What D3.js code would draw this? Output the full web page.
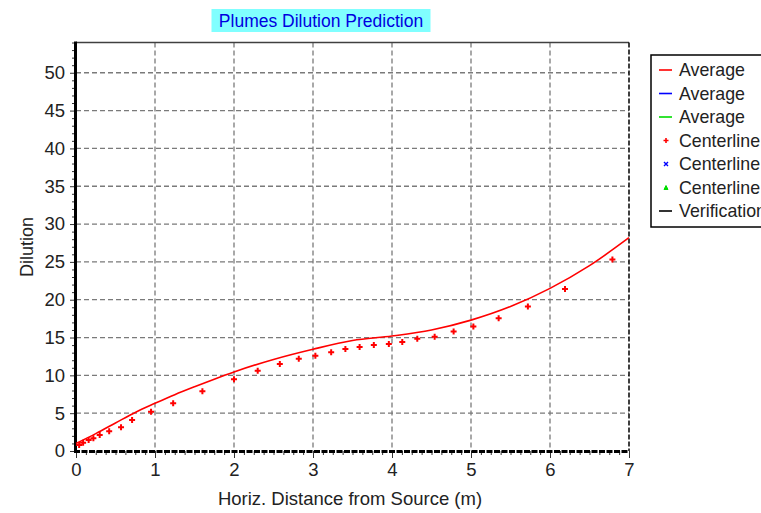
<!DOCTYPE html>
<html><head><meta charset="utf-8">
<script src="https://cdn.jsdelivr.net/npm/d3@7"></script>
<style>body{margin:0;background:#fff;}svg{display:block;font-family:"Liberation Sans",Arial,sans-serif;}</style>
</head><body>
<svg id="c" width="761" height="513"></svg>
<script>
const avgX = [0, 0.25, 0.5, 0.75, 1, 1.25, 1.5, 1.75, 2, 2.5, 3, 3.5, 4, 4.5, 5, 5.5, 6, 6.5, 7];
const avgY = [1.0, 2.3, 3.7, 5.1, 6.3, 7.45, 8.5, 9.5, 10.45, 12.1, 13.45, 14.6, 15.2, 16.0, 17.3, 19.1, 21.5, 24.5, 28.2];
const ctrX = [0.04, 0.09, 0.16, 0.22, 0.30, 0.42, 0.57, 0.71, 0.95, 1.23, 1.60, 2.00, 2.30, 2.58, 2.82, 3.03, 3.23, 3.41, 3.59, 3.77, 3.96, 4.13, 4.32, 4.54, 4.78, 5.03, 5.35, 5.72, 6.19, 6.79];
const ctrY = [0.8, 1.1, 1.45, 1.7, 2.1, 2.6, 3.15, 4.1, 5.2, 6.3, 7.9, 9.5, 10.6, 11.5, 12.2, 12.6, 13.05, 13.5, 13.75, 14.0, 14.15, 14.4, 14.85, 15.1, 15.8, 16.45, 17.55, 19.1, 21.4, 25.3];
const xTicks = [0, 1, 2, 3, 4, 5, 6, 7];
const yTicks = [0, 5, 10, 15, 20, 25, 30, 35, 40, 45, 50];
const legendLabels = ["Average", "Average", "Average", "Centerline", "Centerline", "Centerline", "Verification"];
const legendKinds = ["line", "line", "line", "plus", "cross", "tri", "line"];
const legendColors = ["#ff0000", "#0000ff", "#00dd00", "#ff0000", "#0000ff", "#00dd00", "#000000"];
const title = "Plumes Dilution Prediction";
const xTitle = "Horiz. Distance from Source (m)";
const yTitle = "Dilution";

const svg = d3.select("#c");
const L = 76, R = 629, T = 42.5, B = 451;
const x = d3.scaleLinear().domain([0, 7]).range([L, R]);
const y = d3.scaleLinear().domain([0, 54]).range([B, T]);

// grid
const g = svg.append("g");
g.selectAll(".gx").data(xTicks.filter(d => d > 0 && d < 7)).enter().append("line")
  .attr("x1", d => x(d)).attr("x2", d => x(d)).attr("y1", T).attr("y2", B)
  .attr("stroke", "#7a7a7a").attr("stroke-width", 1.3).attr("stroke-dasharray", "5,3");
g.selectAll(".gy").data(yTicks.filter(d => d > 0)).enter().append("line")
  .attr("x1", L).attr("x2", R).attr("y1", d => y(d)).attr("y2", d => y(d))
  .attr("stroke", "#7a7a7a").attr("stroke-width", 1.3).attr("stroke-dasharray", "5,3");

// frame
svg.append("line").attr("x1", L).attr("x2", R).attr("y1", T).attr("y2", T).attr("stroke", "#404040").attr("stroke-width", 1.5);
svg.append("line").attr("x1", R).attr("x2", R).attr("y1", T).attr("y2", B).attr("stroke", "#000").attr("stroke-width", 1.5).attr("stroke-dasharray", "5,2");

// y axis
const yAxis = d3.axisLeft(y).tickValues(d3.range(0, 55, 1)).tickSize(0).tickFormat(() => "");
const ya = svg.append("g").attr("transform", `translate(${L},0)`).call(yAxis);
ya.select(".domain").remove();
ya.selectAll(".tick line").attr("x2", d => d % 5 === 0 ? -6 : -4).attr("stroke", "#333").attr("stroke-width", 1);
const yLab = svg.append("g").attr("transform", `translate(${L},0)`).call(d3.axisLeft(y).tickValues(yTicks).tickSize(0).tickPadding(11));
yLab.select(".domain").remove();
yLab.selectAll("text").attr("font-size", 18.5).attr("fill", "#222").attr("font-family", "Liberation Sans, Arial, sans-serif");
svg.append("line").attr("x1", L - 0.5).attr("x2", L - 0.5).attr("y1", T - 1).attr("y2", B + 2).attr("stroke", "#000").attr("stroke-width", 3);

// x axis
const xa = svg.append("g").attr("transform", `translate(0,${B})`).call(d3.axisBottom(x).tickValues(d3.range(0, 7.001, 0.125)).tickSize(0).tickFormat(() => ""));
xa.select(".domain").remove();
xa.selectAll(".tick line").attr("y2", d => Math.abs(d - Math.round(d)) < 1e-6 ? 7 : 4).attr("stroke", "#333");
const xLab = svg.append("g").attr("transform", `translate(0,${B})`).call(d3.axisBottom(x).tickValues(xTicks).tickFormat(d3.format("d")).tickSize(0).tickPadding(12));
xLab.select(".domain").remove();
xLab.selectAll("text").attr("font-size", 18.5).attr("fill", "#222").attr("font-family", "Liberation Sans, Arial, sans-serif");
svg.append("line").attr("x1", L - 2).attr("x2", R).attr("y1", B + 0.5).attr("y2", B + 0.5).attr("stroke", "#000").attr("stroke-width", 3).attr("stroke-dasharray", "6,1.5");

// data
const line = d3.line().x((d, i) => x(avgX[i])).y((d, i) => y(avgY[i])).curve(d3.curveMonotoneX);
svg.append("path").datum(avgY).attr("d", line).attr("fill", "none").attr("stroke", "#ff0000").attr("stroke-width", 1.6);
const pts = ctrX.map((v, i) => [v, ctrY[i]]);
svg.append("g").selectAll("path").data(pts).enter().append("path")
  .attr("d", d => `M${x(d[0]) - 3},${y(d[1])}H${x(d[0]) + 3}M${x(d[0])},${y(d[1]) - 3}V${y(d[1]) + 3}`)
  .attr("stroke", "#ff0000").attr("stroke-width", 2).attr("fill", "none");

// title
svg.append("rect").attr("x", 211.5).attr("y", 9).attr("width", 219).attr("height", 23).attr("fill", "#80ffff");
svg.append("text").attr("x", 321).attr("y", 20.5).attr("text-anchor", "middle").attr("dominant-baseline", "central")
  .attr("font-size", 17.5).attr("fill", "#0000e0").text(title);

// axis titles
svg.append("text").attr("x", 350).attr("y", 498).attr("text-anchor", "middle").attr("dominant-baseline", "central")
  .attr("font-size", 18.5).attr("fill", "#222").text(xTitle);
svg.append("text").attr("transform", "translate(27,247) rotate(-90)").attr("text-anchor", "middle").attr("dominant-baseline", "central")
  .attr("font-size", 18).attr("fill", "#222").text(yTitle);

// legend
svg.append("rect").attr("x", 651).attr("y", 55).attr("width", 130).attr("height", 172).attr("fill", "#fff").attr("stroke", "#000").attr("stroke-width", 1.5);
const lg = svg.append("g").selectAll("g").data(legendLabels).enter().append("g")
  .attr("transform", (d, i) => `translate(0,${70 + i * 23.5})`);
lg.each(function (d, i) {
  const s = d3.select(this), c = legendColors[i], k = legendKinds[i];
  if (k === "line") s.append("line").attr("x1", 659).attr("x2", 672).attr("y1", 0).attr("y2", 0).attr("stroke", c).attr("stroke-width", 1.6);
  else if (k === "plus") s.append("path").attr("d", "M663.5,0H668.5M666,-2.5V2.5").attr("stroke", c).attr("stroke-width", 1.6);
  else if (k === "cross") s.append("path").attr("d", "M664,-2L668,2M664,2L668,-2").attr("stroke", c).attr("stroke-width", 1.4);
  else s.append("path").attr("d", "M664,2L666,-2L668,2Z").attr("fill", c).attr("stroke", c).attr("stroke-width", 1);
  s.append("text").attr("x", 679).attr("y", 0).attr("dominant-baseline", "central").attr("font-size", 17.8).attr("fill", "#222").text(d);
});
</script>
</body></html>
